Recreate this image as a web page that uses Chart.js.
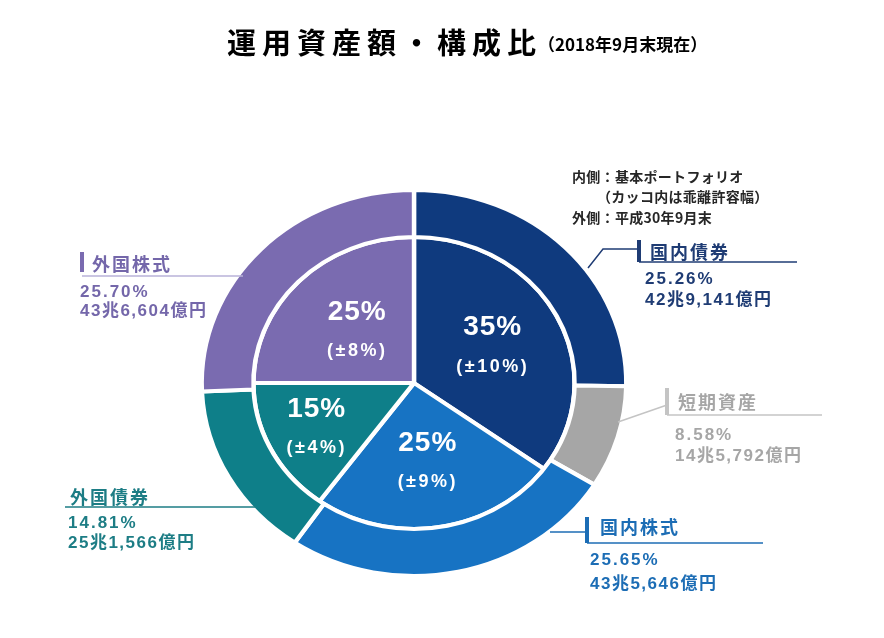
<!DOCTYPE html>
<html>
<head>
<meta charset="utf-8">
<script src="https://cdn.jsdelivr.net/npm/chart.js@4"></script>
<style>
  body { margin: 0; background: #fff; }
  #wrap { position: relative; width: 884px; height: 638px; }
</style>
</head>
<body>
<div id="wrap"><canvas id="assetChart"></canvas></div>
<script>
// dati
const labels = ['国内債券', '短期資産', '国内株式', '外国債券', '外国株式'];
const actualPct = [25.26, 8.58, 25.65, 14.81, 25.70];
const actualAmount = ['42兆9,141億円', '14兆5,792億円', '43兆5,646億円', '25兆1,566億円', '43兆6,604億円'];
const policyPct = [35, 0, 25, 15, 25];
const policyRange = [10, 0, 9, 4, 8];

// colori
const sliceColors = ['#0f3a7e', '#a6a6a6', '#1773c3', '#0e7f89', '#7a6bb0'];
const textColors = ['#1f3c74', '#a6a6a6', '#1c6db5', '#1d7d85', '#7467aa'];
const lineColors = ['#1f3c74', '#c4c4c4', '#1c6db5', '#1d7d85', '#b9b2d8'];

const stretchX = 1.1; // il grafico originale e' leggermente ellittico
const innerLabelR = [0.55, 0, 0.55, 0.68, 0.5];

// posizione dei richiami esterni
const callouts = [
  { bar: [639, 240, 262], label: [650, 252], line: [639, 797, 262], leader: [[588, 268], [603, 249], [639, 249]], values: [645, 279, 300] },
  { bar: [667, 388, 415], label: [678, 402], line: [667, 822, 415], leader: [[618, 422], [667, 405]], values: [675, 435, 456] },
  { bar: [587, 517, 543], label: [600, 527], line: [587, 763, 543], leader: [[550, 532], [587, 532]], values: [590, 560, 584] },
  { bar: null, label: [70, 497], line: [65, 256, 507], leader: null, values: [68, 523, 543] },
  { bar: [82, 252, 272], label: [92, 264], line: [82, 243, 276], leader: null, values: [80, 292, 311] }
];

const jpFont = '"Noto Sans CJK JP", sans-serif';
const numFont = '"Liberation Sans", "Noto Sans CJK JP", sans-serif';

function drawText(ctx, str, x, y, font, color, spacing, align) {
  ctx.font = font;
  ctx.fillStyle = color;
  ctx.letterSpacing = (spacing || 0) + 'px';
  ctx.textAlign = align || 'left';
  ctx.textBaseline = 'middle';
  ctx.fillText(str, x, y);
  ctx.letterSpacing = '0px';
}

// allunga le ciambelle in orizzontale
const ellipsePlugin = {
  id: 'ellipse',
  beforeDatasetsDraw(chart) {
    const a = chart.chartArea;
    const cx = (a.left + a.right) / 2;
    const cy = (a.top + a.bottom) / 2;
    const ctx = chart.ctx;
    ctx.save();
    ctx.translate(cx, cy);
    ctx.scale(stretchX, 1);
    ctx.translate(-cx, -cy);
  },
  afterDatasetsDraw(chart) {
    chart.ctx.restore();
  }
};

// testi, titolo e linee di richiamo
const textPlugin = {
  id: 'texts',
  afterDraw(chart) {
    const ctx = chart.ctx;
    const a = chart.chartArea;
    const cx = (a.left + a.right) / 2;
    const cy = (a.top + a.bottom) / 2;
    ctx.save();

    // titolo
    drawText(ctx, '運用資産額・構成比', 227, 43, 'bold 29px ' + jpFont, '#000', 6);
    drawText(ctx, '（2018年9月末現在）', 538, 45, 'bold 17px ' + jpFont, '#000', 0);

    // nota
    drawText(ctx, '内側：基本ポートフォリオ', 572, 177, 'bold 14px ' + jpFont, '#262626', 0.3);
    drawText(ctx, '（カッコ内は乖離許容幅）', 597, 197, 'bold 14px ' + jpFont, '#262626', 0.3);
    drawText(ctx, '外側：平成30年9月末', 572, 218, 'bold 14px ' + jpFont, '#262626', 0.3);

    // etichette interne (portafoglio di base)
    const inner = chart.getDatasetMeta(1).data;
    inner.forEach(function(arc, i) {
      if (!policyPct[i]) return;
      const mid = (arc.startAngle + arc.endAngle) / 2;
      const r = arc.outerRadius * innerLabelR[i];
      const x = cx + Math.cos(mid) * r * stretchX;
      const y = cy + Math.sin(mid) * r;
      drawText(ctx, policyPct[i] + '%', x, y - 19, 'bold 28px ' + numFont, '#fff', 1, 'center');
      drawText(ctx, '(±' + policyRange[i] + '%)', x, y + 20, 'bold 18px ' + numFont, '#fff', 2.5, 'center');
    });

    // richiami esterni
    callouts.forEach(function(c, i) {
      ctx.strokeStyle = lineColors[i];
      ctx.lineWidth = 1.5;
      if (c.leader) {
        ctx.beginPath();
        ctx.moveTo(c.leader[0][0], c.leader[0][1]);
        for (let k = 1; k < c.leader.length; k++) ctx.lineTo(c.leader[k][0], c.leader[k][1]);
        ctx.stroke();
      }
      ctx.beginPath();
      ctx.moveTo(c.line[0], c.line[2]);
      ctx.lineTo(c.line[1], c.line[2]);
      ctx.stroke();
      if (c.bar) {
        ctx.fillStyle = i === 4 ? sliceColors[4] : lineColors[i];
        ctx.fillRect(c.bar[0] - 2, c.bar[1], 4, c.bar[2] - c.bar[1]);
      }
      drawText(ctx, labels[i], c.label[0], c.label[1], 'bold 18px ' + jpFont, textColors[i], 2);
      drawText(ctx, actualPct[i].toFixed(2) + '%', c.values[0], c.values[1], 'bold 17px ' + numFont, textColors[i], 2);
      drawText(ctx, actualAmount[i], c.values[0], c.values[2], 'bold 17px ' + numFont, textColors[i], 1.5);
    });

    ctx.restore();
  }
};

document.addEventListener('DOMContentLoaded', function() {
  const ctx = document.getElementById('assetChart').getContext('2d');
  new Chart(ctx, {
    type: 'doughnut',
    data: {
      labels: labels,
      datasets: [{
        label: '平成30年9月末',
        data: actualPct,
        backgroundColor: sliceColors,
        borderColor: '#fff',
        borderWidth: 4,
        weight: 47,
        clip: false
      }, {
        label: '基本ポートフォリオ',
        data: policyPct,
        backgroundColor: sliceColors,
        borderColor: '#fff',
        borderWidth: 4,
        weight: 146,
        clip: false
      }]
    },
    options: {
      responsive: true,
      maintainAspectRatio: false,
      animation: false,
      cutout: 0,
      radius: 193,
      hoverOffset: 0,
      layout: { padding: { left: 100, right: 156, top: 190, bottom: 62 } },
      plugins: {
        legend: { display: false },
        tooltip: { enabled: false }
      }
    },
    plugins: [ellipsePlugin, textPlugin]
  });
});
</script>
</body>
</html>
